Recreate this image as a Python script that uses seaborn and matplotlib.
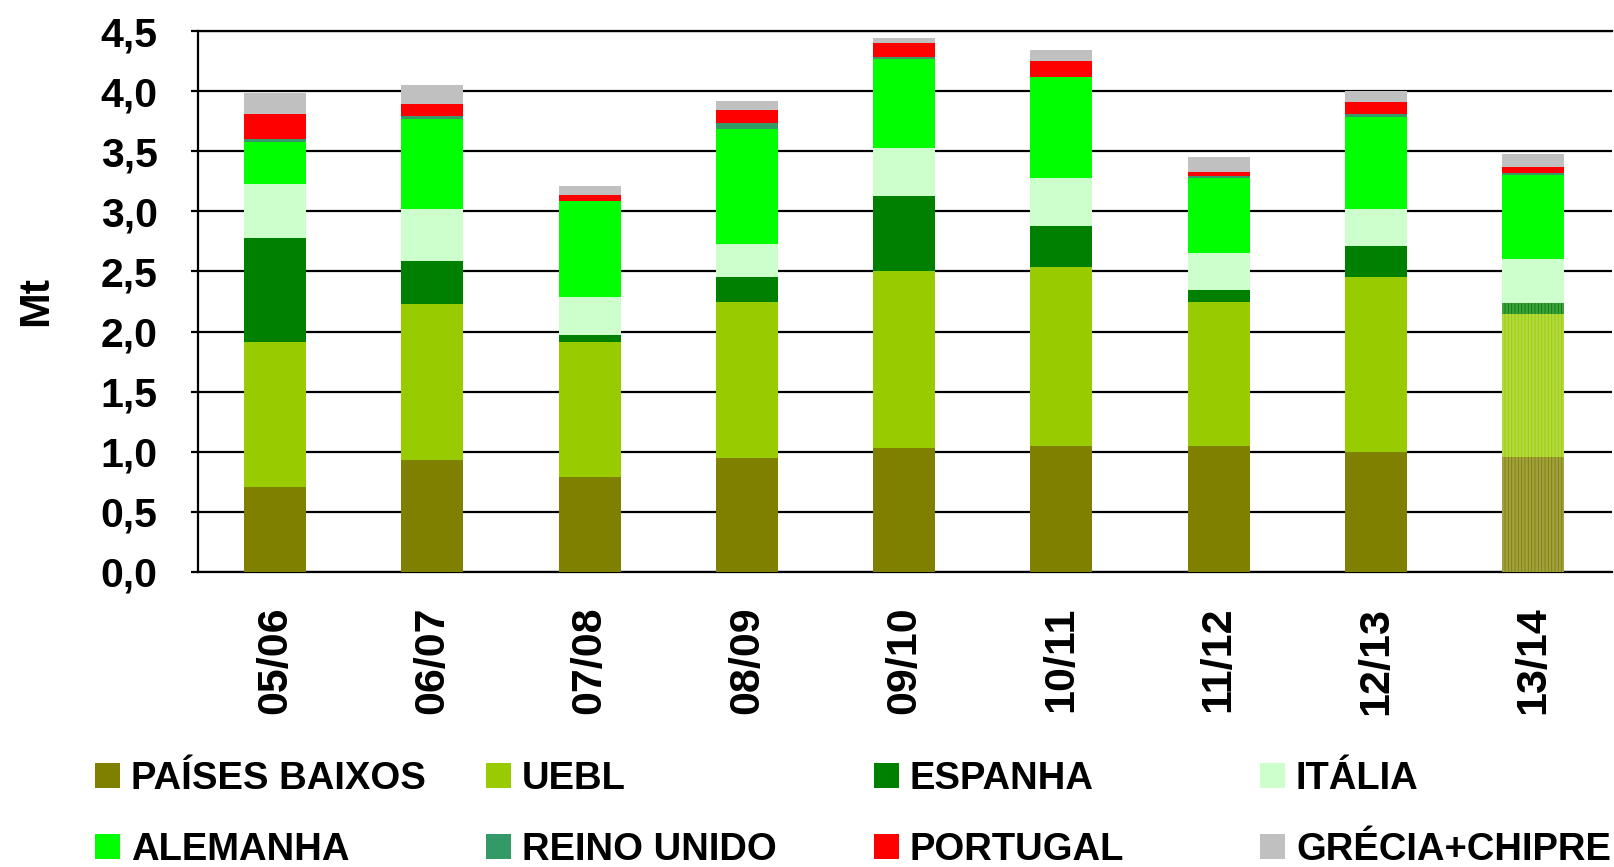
import matplotlib
matplotlib.use("Agg")
import matplotlib.pyplot as plt
from matplotlib.patches import Rectangle
import seaborn as sns
import pandas as pd
import numpy as np

# Campaign years (last one is a forecast)
years = ['05/06', '06/07', '07/08', '08/09', '09/10', '10/11', '11/12', '12/13', '13/14']

# Imports by origin, in Mt
paises_baixos = [0.71, 0.93, 0.79, 0.95, 1.03, 1.045, 1.045, 0.995, 0.96]
uebl = [1.20, 1.30, 1.12, 1.295, 1.47, 1.49, 1.20, 1.455, 1.19]
espanha = [0.87, 0.355, 0.06, 0.21, 0.63, 0.34, 0.10, 0.26, 0.09]
italia = [0.445, 0.435, 0.315, 0.275, 0.40, 0.40, 0.31, 0.31, 0.36]
alemanha = [0.355, 0.75, 0.80, 0.955, 0.735, 0.84, 0.625, 0.765, 0.705]
reino_unido = [0.02, 0.025, 0.005, 0.05, 0.015, 0.005, 0.012, 0.027, 0.015]
portugal = [0.21, 0.10, 0.05, 0.107, 0.12, 0.13, 0.032, 0.098, 0.05]
grecia_chipre = [0.175, 0.157, 0.075, 0.074, 0.04, 0.092, 0.125, 0.089, 0.11]

series_names = ['PAÍSES BAIXOS', 'UEBL', 'ESPANHA', 'ITÁLIA',
                'ALEMANHA', 'REINO UNIDO', 'PORTUGAL', 'GRÉCIA+CHIPRE']
series_values = [paises_baixos, uebl, espanha, italia,
                 alemanha, reino_unido, portugal, grecia_chipre]
series_colors = ['#808000', '#99CC00', '#008000', '#CCFFCC',
                 '#00FF00', '#339966', '#FF0000', '#C0C0C0']
# Lighter shades used for the forecast year
forecast_colors = {'PAÍSES BAIXOS': '#A0A040', 'UEBL': '#B3D940', 'ESPANHA': '#40A040'}

y_ticks = [0.0, 0.5, 1.0, 1.5, 2.0, 2.5, 3.0, 3.5, 4.0, 4.5]
y_tick_labels = ['0,0', '0,5', '1,0', '1,5', '2,0', '2,5', '3,0', '3,5', '4,0', '4,5']

sns.set_style("white")
plt.rcParams['font.family'] = ['Liberation Sans', 'DejaVu Sans']
plt.rcParams['font.weight'] = 'bold'
plt.rcParams['hatch.linewidth'] = 0.6

fig = plt.figure(figsize=(16.15, 8.67), dpi=100)
ax = fig.add_axes([0.1226, 0.3403, 0.8754, 0.6239])

df = pd.DataFrame({'ano': years})
cum = np.cumsum(np.array(series_values), axis=0)

# Stacked bars: draw cumulative totals from the top series downwards
for i in range(len(series_names) - 1, -1, -1):
    name = series_names[i]
    df['valor'] = cum[i]
    pal = {y: series_colors[i] for y in years}
    if name in forecast_colors:
        pal[years[-1]] = forecast_colors[name]
    n_before = len(ax.patches)
    sns.barplot(data=df, x='ano', y='valor', hue='ano', palette=pal, legend=False,
                width=0.394, saturation=1, linewidth=0, ax=ax, errorbar=None, zorder=3)
    if name in forecast_colors:
        for p in ax.patches[n_before:]:
            if abs(p.get_x() + p.get_width() / 2 - (len(years) - 1)) < 0.01:
                p.set_hatch('|||||')
                p.set_edgecolor(series_colors[i])
                p.set_linewidth(0)

ax.set_xlim(-0.49, len(years) - 0.5)
ax.set_ylim(0, 4.5)
ax.set_yticks(y_ticks)
ax.set_yticklabels(y_tick_labels)
ax.yaxis.grid(True, color='black', linewidth=1.6, zorder=0)
ax.set_axisbelow(True)

for s in ['left', 'bottom', 'top']:
    ax.spines[s].set_color('black')
    ax.spines[s].set_linewidth(1.6)
ax.spines['right'].set_visible(False)

ax.tick_params(axis='y', which='both', left=True, length=5, width=1.6, color='black',
               pad=24, labelsize=29.5, labelcolor='black')
ax.tick_params(axis='x', which='both', bottom=False, length=0, pad=25,
               labelsize=31, labelcolor='black', labelrotation=90)
for lbl in ax.get_xticklabels() + ax.get_yticklabels():
    lbl.set_fontweight('bold')

ax.set_xlabel('')
ax.set_ylabel('Mt', fontsize=31, fontweight='bold', color='black')
ax.yaxis.set_label_coords(-0.100, 0.5)

# Legend laid out in a 4 x 2 grid below the chart
W, H = 1615.0, 867.0
col_x = [95, 486, 874, 1260]
row_y = [775, 846]
box = 25
for k, (name, color) in enumerate(zip(series_names, series_colors)):
    r, c = divmod(k, 4)
    x0 = col_x[c]
    yc = row_y[r]
    fig.add_artist(Rectangle((x0 / W, 1 - (yc + box / 2) / H), box / W, box / H,
                             transform=fig.transFigure, facecolor=color, edgecolor='none'))
    fig.text((x0 + 36) / W, 1 - (yc + 14) / H, name, fontsize=27.5, fontweight='bold',
             color='black', ha='left', va='baseline')

fig.savefig('out.png', dpi=100, facecolor='white')
